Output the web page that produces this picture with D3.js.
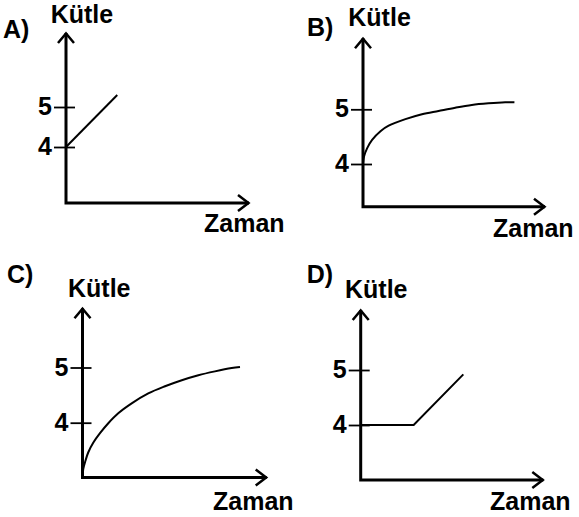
<!DOCTYPE html>
<html>
<head>
<meta charset="utf-8">
<script src="https://cdn.jsdelivr.net/npm/d3@7"></script>
<style>
  html, body { margin: 0; padding: 0; background: #fff; }
  text { font-family: "Liberation Sans", Arial, sans-serif; font-weight: bold; fill: #000; }
</style>
</head>
<body>
<svg id="chart" width="579" height="517"></svg>
<script>
// ---- data ----
const panelLabels = ["A)", "B)", "C)", "D)"];
const yTitle = "Kütle";
const xTitle = "Zaman";
const yTickValues = [4, 5];

const timeA = [0, 2.8];
const massA = [4, 5.3];

const timeB = [0, 0.06, 0.23, 0.5, 0.96, 1.41, 2.33, 3.24, 4.15, 5.07, 5.98, 6.89, 7.81, 8.32];
const massB = [4.02, 4.14, 4.29, 4.44, 4.6, 4.7, 4.82, 4.91, 4.97, 5.03, 5.08, 5.11, 5.13, 5.13];

const timeC = [0, 0.04, 0.17, 0.31, 0.59, 0.95, 1.4, 1.94, 2.67, 3.57, 4.48, 5.39, 6.29, 7.19, 8.1, 8.55];
const massC = [3.0, 3.16, 3.32, 3.46, 3.64, 3.81, 3.99, 4.17, 4.35, 4.53, 4.66, 4.77, 4.86, 4.93, 4.99, 5.01];

const timeD = [0, 2.9, 5.62];
const massD = [4, 4, 4.92];

const series = [
  { t: timeA, m: massA, curve: d3.curveLinear },
  { t: timeB, m: massB, curve: d3.curveCatmullRom.alpha(0.5) },
  { t: timeC, m: massC, curve: d3.curveCatmullRom.alpha(0.5) },
  { t: timeD, m: massD, curve: d3.curveLinear }
];

// ---- layout ----
const layout = [
  { ox: 66,   oy: 203,   topY: 33,    tipX: 249,   y4: 147,   y5: 107,
    lab: [3, 38],    yt: [50.7, 22.7], xt: [204, 231.7] },
  { ox: 363,  oy: 206.7, topY: 38.3,  tipX: 545,   y4: 164,   y5: 109.3,
    lab: [307, 36],  yt: [348.3, 26],  xt: [493, 236.7] },
  { ox: 82.5, oy: 477.5, topY: 308.3, tipX: 266.7, y4: 422.7, y5: 367.5,
    lab: [7, 283],   yt: [68, 296.7],  xt: [213, 510] },
  { ox: 360.7,oy: 480,   topY: 310,   tipX: 543.3, y4: 425,   y5: 370,
    lab: [306.7, 283], yt: [345, 298], xt: [490, 510] }
];

const svg = d3.select("#chart");
const fs = 25;

layout.forEach((L, i) => {
  const g = svg.append("g");
  const x = d3.scaleLinear().domain([0, 10]).range([L.ox, L.tipX]);
  const y = d3.scaleLinear().domain([4, 5]).range([L.y4, L.y5]);

  // axes lines with arrows
  g.append("path")
    .attr("d", `M${L.ox},${L.topY}L${L.ox},${L.oy}L${L.tipX},${L.oy}`)
    .attr("fill", "none").attr("stroke", "#000").attr("stroke-width", 3)
    .attr("stroke-linejoin", "miter").attr("stroke-linecap", "butt");
  g.append("path")
    .attr("d", `M${L.ox - 8},${L.topY + 10}L${L.ox},${L.topY + 0.5}L${L.ox + 8},${L.topY + 10}`)
    .attr("fill", "none").attr("stroke", "#000").attr("stroke-width", 2.5);
  g.append("path")
    .attr("d", `M${L.tipX - 11},${L.oy - 8}L${L.tipX - 0.5},${L.oy}L${L.tipX - 11},${L.oy + 8}`)
    .attr("fill", "none").attr("stroke", "#000").attr("stroke-width", 2.5);

  // y axis ticks & labels via d3.axisLeft
  const ax = g.append("g")
    .attr("transform", `translate(${L.ox},0)`)
    .call(d3.axisLeft(y).tickValues(yTickValues).tickFormat(d3.format("d")).tickSize(12).tickPadding(2));
  ax.select(".domain").remove();
  ax.selectAll(".tick line").attr("x1", 9).attr("x2", -12).attr("stroke", "#000").attr("stroke-width", 1.8);
  ax.selectAll(".tick text")
    .attr("font-size", fs).attr("font-family", "Liberation Sans, Arial, sans-serif")
    .attr("font-weight", "bold").attr("fill", "#000").attr("dy", "0.3em");

  // data line
  const s = series[i];
  const pts = s.t.map((t, k) => [t, s.m[k]]);
  g.append("path")
    .datum(pts)
    .attr("d", d3.line().x(d => x(d[0])).y(d => y(d[1])).curve(s.curve))
    .attr("fill", "none").attr("stroke", "#000").attr("stroke-width", 2);

  // titles
  g.append("text").attr("x", L.lab[0]).attr("y", L.lab[1]).attr("font-size", fs).text(panelLabels[i]);
  g.append("text").attr("x", L.yt[0]).attr("y", L.yt[1]).attr("font-size", fs).text(yTitle);
  g.append("text").attr("x", L.xt[0]).attr("y", L.xt[1]).attr("font-size", fs).text(xTitle);
});
</script>
</body>
</html>
